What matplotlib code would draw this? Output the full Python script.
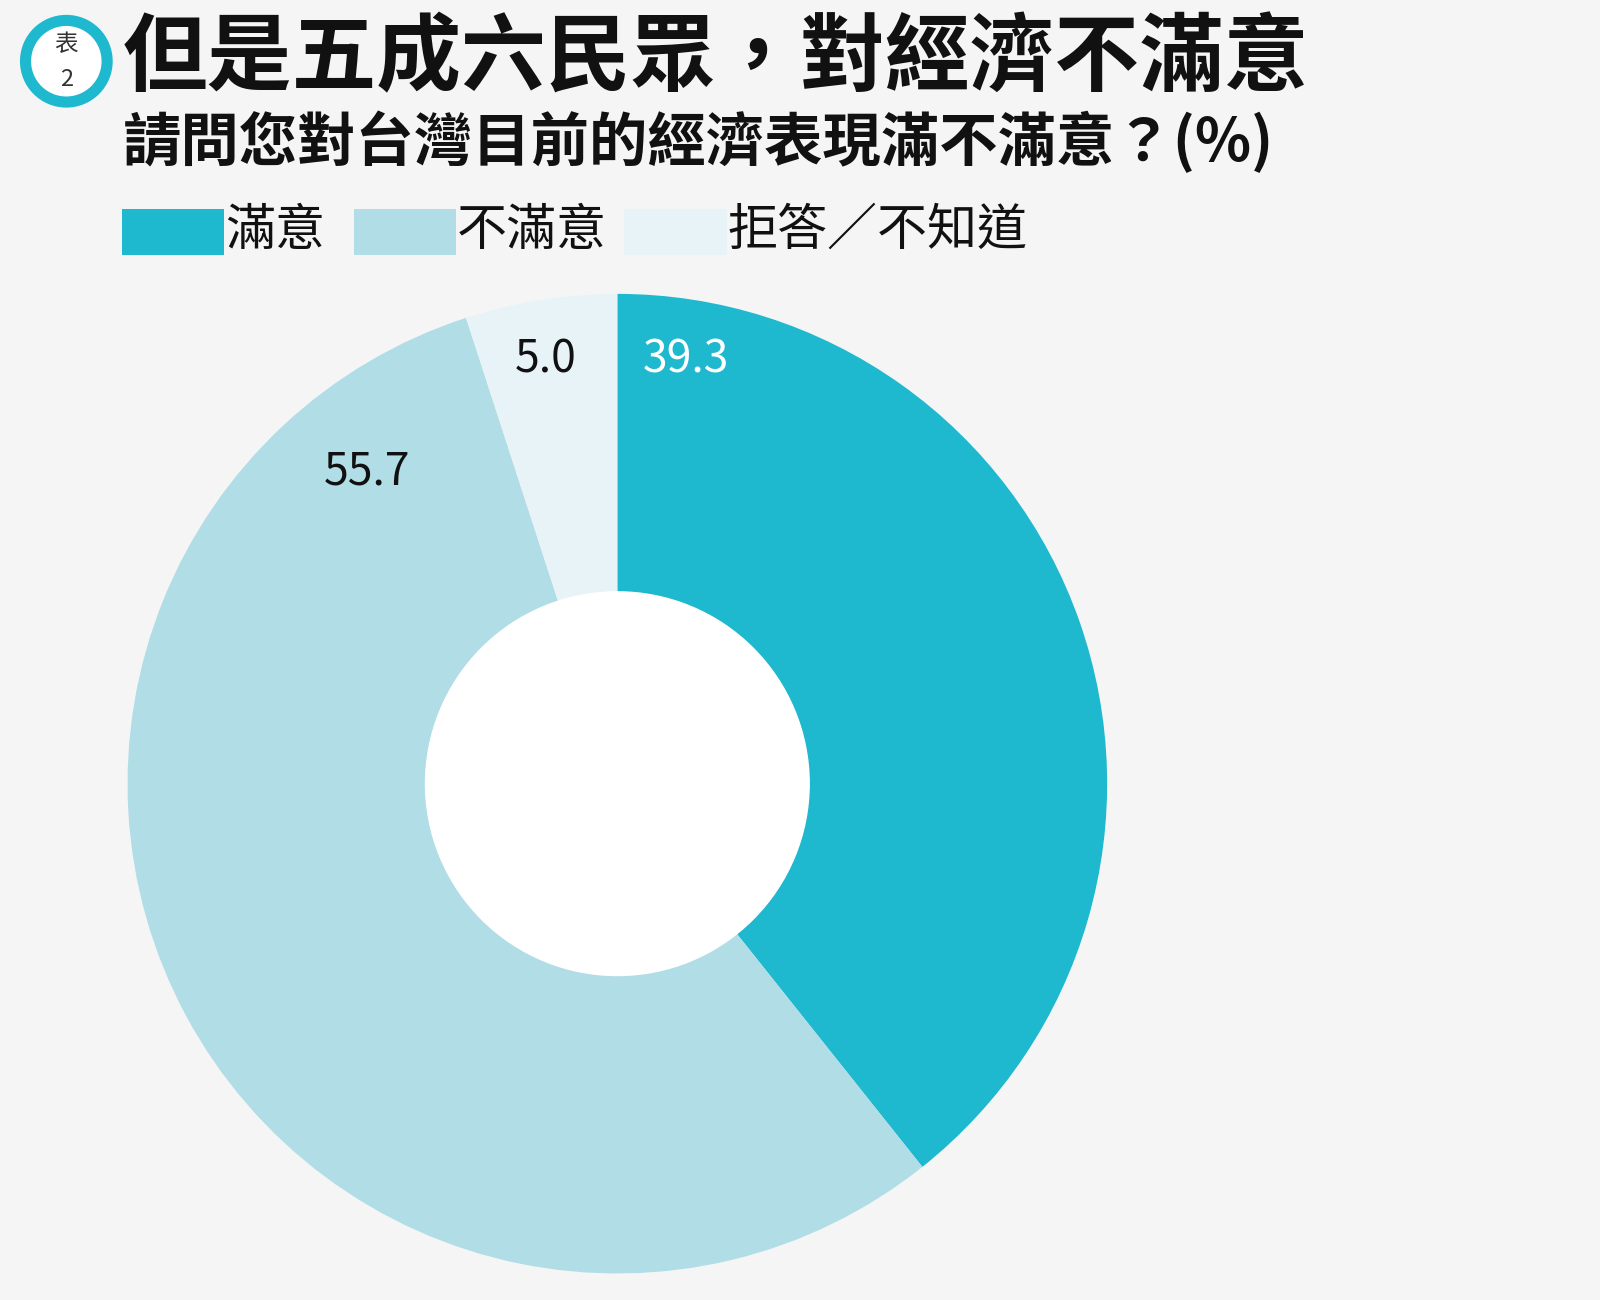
import matplotlib
matplotlib.use("Agg")
import matplotlib.pyplot as plt
from matplotlib.patches import Circle, Rectangle

plt.rcParams['font.family'] = ['Noto Sans CJK TC', 'DejaVu Sans']

categories = ["滿意", "不滿意", "拒答／不知道"]
values = [39.3, 55.7, 5.0]
labels = ["39.3", "55.7", "5.0"]
colors = ["#1EB8CF", "#B0DDE6", "#E8F3F8"]
label_colors = ["white", "#111111", "#111111"]

W, H = 1568, 1274
fig = plt.figure(figsize=(16, 13), dpi=100)
fig.patch.set_facecolor("#F5F5F5")

def fx(px): return px / W
def fy(py): return 1 - py / H

ax = fig.add_axes([fx(125), fy(1248), 960 / W, 960 / H])
ax.pie(values, colors=colors, startangle=90, counterclock=False,
       radius=1, wedgeprops=dict(width=1 - 188 / 480, linewidth=0))
ax.set_xlim(-1, 1); ax.set_ylim(-1, 1); ax.set_aspect("equal")
ax.add_patch(Circle((0, 0), 188 / 480, color="white", zorder=5))
pos = [(672, 352), (360, 462), (535, 352)]
for (px, py), lab, c in zip(pos, labels, label_colors):
    ax.text((px - 605) / 480, (768 - py) / 480, lab, color=c, fontsize=32,
            fontweight="medium", ha="center", va="center")

bax = fig.add_axes([0, 0, 1, 1], facecolor="none")
bax.set_xlim(0, W); bax.set_ylim(H, 0); bax.axis("off")
bax.add_patch(Circle((65, 60), 40, facecolor="white", edgecolor="#1EB8CF", linewidth=8))
bax.text(65, 44, "表", ha="center", va="center", fontsize=17, color="#333")
bax.text(65, 78, "2", ha="center", va="center", fontsize=17, color="#333")
bax.text(120, 58, "但是五成六民眾，對經濟不滿意", fontsize=61, fontweight="bold",
         ha="left", va="center", color="#111")
bax.text(120, 140, "請問您對台灣目前的經濟表現滿不滿意？(%)", fontsize=42, fontweight="bold",
         ha="left", va="center", color="#111")
leg = [(120, 220), (347, 447), (612, 712)]
for (x0, x1), cat, c in zip(leg, categories, colors):
    bax.add_patch(Rectangle((x0, 205), x1 - x0, 45, facecolor=c, edgecolor="none"))
    bax.text(x1 + 1, 226, cat, fontsize=36, ha="left", va="center", color="#111")

fig.savefig("out.png", dpi=100, facecolor=fig.get_facecolor())
